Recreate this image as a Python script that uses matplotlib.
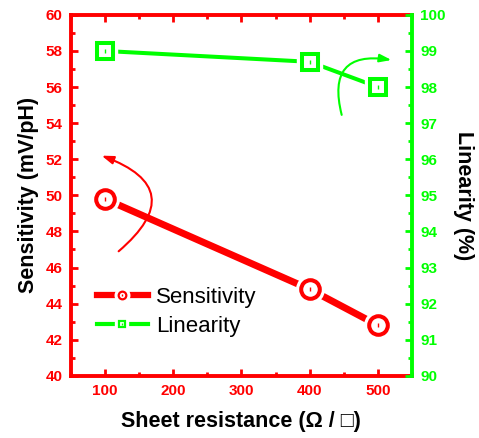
import matplotlib
matplotlib.use('Agg')
import matplotlib.pyplot as plt
from matplotlib.lines import Line2D
from matplotlib.legend_handler import HandlerTuple
from matplotlib.ticker import MultipleLocator

plt.rcParams['font.family'] = ['Liberation Sans', 'DejaVu Sans']

resistance = [100, 400, 500]
sensitivity = [49.8, 44.8, 42.8]
linearity = [99.0, 98.7, 98.0]

red = '#ff0000'
green = '#00ff00'

fig = plt.figure(figsize=(4.79, 4.38), dpi=100)
ax = fig.add_axes([0.148, 0.142, 0.712, 0.824])
ax2 = ax.twinx()

# sensitivity (left axis) - white halo under markers gives the line gaps
ax.plot(resistance, sensitivity, color=red, lw=5, solid_capstyle='butt', zorder=2)
ax.plot(resistance, sensitivity, ls='none', marker='o', ms=13.4, mfc='white',
        mec='white', mew=7.5, zorder=3)
ax.plot(resistance, sensitivity, ls='none', marker='o', ms=13.4, mfc='white',
        mec=red, mew=2.9, zorder=4)
ax.plot(resistance, sensitivity, ls='none', marker='|', ms=3, mec=red, mew=1, zorder=5)

# linearity (right axis)
ax2.plot(resistance, linearity, color=green, lw=2.9, solid_capstyle='butt', zorder=2)
ax2.plot(resistance, linearity, ls='none', marker='s', ms=12, mfc='white',
         mec='white', mew=7.5, zorder=3)
ax2.plot(resistance, linearity, ls='none', marker='s', ms=12, mfc='white',
         mec=green, mew=2.9, zorder=4)
ax2.plot(resistance, linearity, ls='none', marker='|', ms=3, mec=green, mew=1, zorder=5)

ax.set_xlim(50, 550)
ax.set_ylim(40, 60)
ax2.set_ylim(90, 100)
ax.set_xticks([100, 200, 300, 400, 500])
ax.xaxis.set_minor_locator(MultipleLocator(50))
ax.yaxis.set_major_locator(MultipleLocator(2))
ax.yaxis.set_minor_locator(MultipleLocator(1))
ax2.yaxis.set_major_locator(MultipleLocator(1))
ax2.yaxis.set_minor_locator(MultipleLocator(0.5))

for s in ['left', 'bottom', 'top']:
    ax.spines[s].set_color(red)
    ax.spines[s].set_linewidth(2.8)
    ax2.spines[s].set_visible(False)
ax.spines['right'].set_visible(False)
ax2.spines['right'].set_color(green)
ax2.spines['right'].set_linewidth(2.8)

ax.tick_params(axis='both', which='major', direction='in', length=5, width=2,
               color=red, labelcolor=red, labelsize=11, top=True, pad=6)
ax.tick_params(axis='both', which='minor', direction='in', length=3, width=2,
               color=red, top=True)
ax2.tick_params(axis='y', which='major', direction='in', length=5, width=2,
                color=green, labelcolor=green, labelsize=11, pad=6)
ax2.tick_params(axis='y', which='minor', direction='in', length=3, width=2, color=green)
for lab in ax.get_xticklabels() + ax.get_yticklabels() + ax2.get_yticklabels():
    lab.set_fontweight('bold')

ax.set_xlabel('Sheet resistance (Ω / □)', fontsize=15.5, fontweight='bold', labelpad=9)
ax.set_ylabel('Sensitivity (mV/pH)', fontsize=15.5, fontweight='bold', labelpad=5)
ax2.set_ylabel('Linearity (%)', fontsize=15.5, fontweight='bold', rotation=270, labelpad=20)

# curved arrows pointing to each axis
arrow = '-|>,head_length=0.5,head_width=0.17'
ax.annotate('', xy=(95, 52.2), xytext=(120, 46.9),
            arrowprops=dict(arrowstyle=arrow, color=red, lw=1.5, shrinkA=0, shrinkB=0,
                            connectionstyle='arc3,rad=0.85', mutation_scale=14))
ax2.annotate('', xy=(520, 98.75), xytext=(447, 97.23),
             arrowprops=dict(arrowstyle=arrow, color=green, lw=1.5, shrinkA=0, shrinkB=0,
                             connectionstyle='arc3,rad=-0.75', mutation_scale=14))

h1 = (Line2D([], [], color=red, lw=4.5),
      Line2D([], [], ls='none', marker='o', ms=5.5, mfc='white', mec='white', mew=6),
      Line2D([], [], ls='none', marker='o', ms=5.5, mfc='white', mec=red, mew=1.6),
      Line2D([], [], ls='none', marker='|', ms=1.5, mec=red, mew=1))
h2 = (Line2D([], [], color=green, lw=3),
      Line2D([], [], ls='none', marker='s', ms=5, mfc='white', mec='white', mew=6),
      Line2D([], [], ls='none', marker='s', ms=5, mfc='white', mec=green, mew=1.6),
      Line2D([], [], ls='none', marker='|', ms=1.5, mec=green, mew=1))
ax2.legend([h1, h2], ['Sensitivity', 'Linearity'], handler_map={tuple: HandlerTuple(ndivide=1)},
           loc='upper left', bbox_to_anchor=(0.05, 0.27), frameon=False, fontsize=16,
           handlelength=2.3, handletextpad=0.36, labelspacing=0.35, borderaxespad=0)

fig.savefig('out.png', dpi=100)
